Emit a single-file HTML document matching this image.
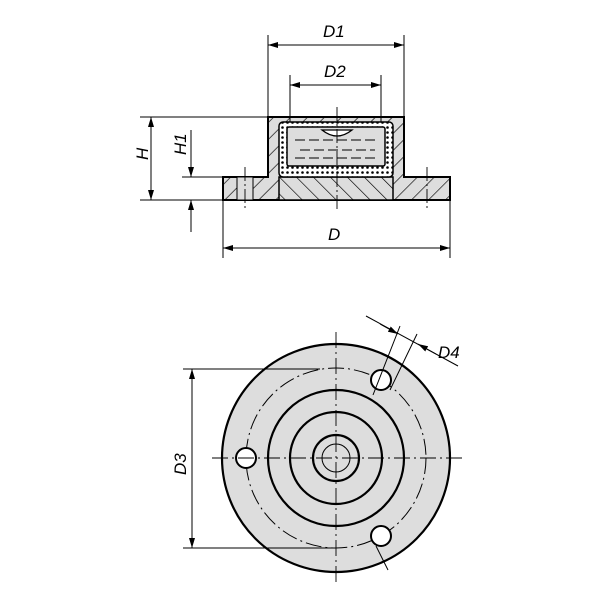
<!DOCTYPE html>
<html><head><style>body{margin:0;background:#fff}svg{display:block}</style></head><body>
<svg width="600" height="600" viewBox="0 0 600 600" xmlns="http://www.w3.org/2000/svg">
<defs>
<pattern id="h1" patternUnits="userSpaceOnUse" width="12" height="12" patternTransform="rotate(45)"><rect width="12" height="12" fill="#ddd"/><line x1="0" y1="0" x2="0" y2="12" stroke="#000" stroke-width="1.3"/></pattern>
<pattern id="h2" patternUnits="userSpaceOnUse" width="12" height="12" patternTransform="rotate(-45)"><rect width="12" height="12" fill="#ddd"/><line x1="0" y1="0" x2="0" y2="12" stroke="#000" stroke-width="1.3"/></pattern>
<pattern id="dots" patternUnits="userSpaceOnUse" width="5" height="5"><rect width="5" height="5" fill="#fff"/><circle cx="2.5" cy="2.5" r="1.3" fill="#000"/></pattern>
<marker id="a" viewBox="0 0 10 6" refX="10" refY="3" markerWidth="10" markerHeight="6" orient="auto-start-reverse" markerUnits="userSpaceOnUse"><path d="M0,0L10,3L0,6z" fill="#000"/></marker>
</defs>
<g stroke="#000" fill="none">
<path d="M223,177H268V117H404V177H450V200H223Z" fill="url(#h1)" stroke-width="2"/>
<rect x="279" y="177" width="114" height="23" fill="url(#h2)" stroke-width="1.5"/>
<rect x="237" y="177" width="16" height="23" fill="#ddd" stroke-width="1"/>
<rect x="279" y="122" width="114" height="55" rx="4" fill="url(#dots)" stroke-width="1.5"/>
<rect x="287" y="127" width="98" height="39" rx="2" fill="#ddd" stroke-width="1.5"/>
<path d="M322,130 Q337,142 352,130Z" fill="#fff" stroke-width="1.3"/>
<g stroke-width="1" stroke-dasharray="10,4"><line x1="295" y1="140" x2="378" y2="140"/><line x1="300" y1="150" x2="375" y2="150"/><line x1="295" y1="158" x2="378" y2="158"/></g>
<g stroke-width="0.9" stroke-dasharray="14,3,2,3"><line x1="337" y1="107" x2="337" y2="210"/><line x1="245" y1="167" x2="245" y2="210"/><line x1="427" y1="167" x2="427" y2="210"/></g>
<g stroke-width="1">
<line x1="268" y1="117" x2="268" y2="35"/><line x1="404" y1="117" x2="404" y2="35"/>
<line x1="290" y1="122" x2="290" y2="75"/><line x1="381" y1="122" x2="381" y2="75"/>
<line x1="223" y1="200" x2="223" y2="258"/><line x1="450" y1="200" x2="450" y2="258"/>
<line x1="140" y1="117" x2="268" y2="117"/><line x1="140" y1="200" x2="223" y2="200"/><line x1="182" y1="177" x2="223" y2="177"/>
<line x1="268" y1="45" x2="404" y2="45" marker-start="url(#a)" marker-end="url(#a)"/>
<line x1="290" y1="85" x2="381" y2="85" marker-start="url(#a)" marker-end="url(#a)"/>
<line x1="223" y1="248" x2="450" y2="248" marker-start="url(#a)" marker-end="url(#a)"/>
<line x1="151" y1="117" x2="151" y2="200" marker-start="url(#a)" marker-end="url(#a)"/>
<line x1="191" y1="130" x2="191" y2="177" marker-end="url(#a)"/>
<line x1="191" y1="232" x2="191" y2="200" marker-end="url(#a)"/>
</g>
<circle cx="336" cy="458" r="114" fill="#ddd" stroke-width="2.2"/>
<circle cx="336" cy="458" r="90" stroke-width="1" stroke-dasharray="16,4,2,4"/>
<circle cx="336" cy="458" r="68" stroke-width="2.2"/>
<circle cx="336" cy="458" r="46" stroke-width="2.2"/>
<circle cx="336" cy="458" r="23" stroke-width="2.2"/>
<circle cx="336" cy="458" r="14" stroke-width="1"/>
<circle cx="246" cy="458" r="10" fill="#fff" stroke-width="2"/>
<circle cx="381" cy="380" r="10" fill="#fff" stroke-width="2"/>
<circle cx="381" cy="536" r="10" fill="#fff" stroke-width="2"/>
<g stroke-width="0.9" stroke-dasharray="16,4,2,4"><line x1="336" y1="332" x2="336" y2="584"/><line x1="212" y1="458" x2="462" y2="458"/></g>
<g stroke-width="1">
<line x1="373" y1="395" x2="400" y2="326"/><line x1="390" y1="390" x2="417" y2="334"/>
<line x1="366" y1="316" x2="458" y2="366"/>
<line x1="380" y1="324" x2="398" y2="334" marker-end="url(#a)"/>
<line x1="436" y1="354" x2="418" y2="344" marker-end="url(#a)"/>
<line x1="183" y1="369" x2="320" y2="369"/><line x1="183" y1="548" x2="336" y2="548"/>
<line x1="192" y1="369" x2="192" y2="548" marker-start="url(#a)" marker-end="url(#a)"/>
<line x1="376" y1="546" x2="388" y2="570"/>
</g>
</g>
<g font-family="Liberation Sans, sans-serif" font-style="italic" font-size="17" fill="#000">
<text x="323" y="37">D1</text>
<text x="324" y="77">D2</text>
<text x="328" y="240">D</text>
<text transform="translate(148,160) rotate(-90)">H</text>
<text transform="translate(186,155) rotate(-90)">H1</text>
<text transform="translate(186,475) rotate(-90)">D3</text>
<text x="438" y="358">D4</text>
</g>
</svg>
</body></html>
